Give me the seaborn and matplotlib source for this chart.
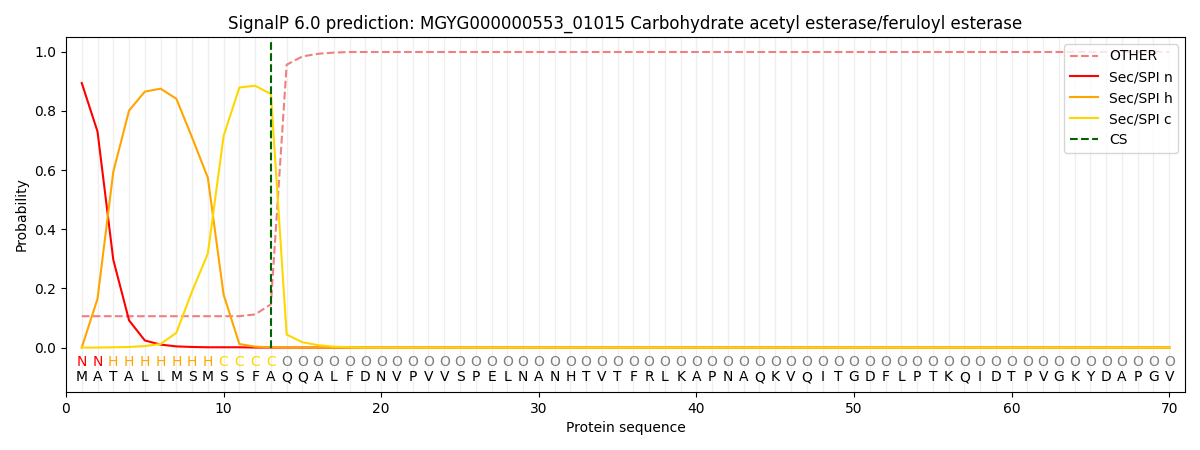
import numpy as np
import pandas as pd
import matplotlib
matplotlib.use("Agg")
import matplotlib.pyplot as plt
import seaborn as sns

sequence = list("MATALLMSMSSFAQQALFDNVPVVSPELNANHTVTFRLKAPNAQKVQITGDFLPTKQIDTPVGKYDAPGV")
labels = list("NNHHHHHHHCCCC") + ["O"] * 57

n_tail = 70 - 17
other = [0.106] * 11 + [0.112, 0.146, 0.956, 0.984, 0.993, 0.997] + [0.999] * n_tail
sec_n = [0.894, 0.730, 0.297, 0.092, 0.024, 0.010, 0.004, 0.002, 0.001, 0.001, 0.001, 0.0, 0.0] + [0.0] * 57
sec_h = [0.0, 0.165, 0.594, 0.801, 0.865, 0.875, 0.841, 0.710, 0.574, 0.179, 0.012, 0.003, 0.001] + [0.0] * 57
sec_c = [0.0, 0.0, 0.001, 0.002, 0.005, 0.012, 0.05, 0.19, 0.318, 0.715, 0.879, 0.885, 0.857,
         0.044, 0.018, 0.008, 0.003, 0.001] + [0.0] * 52
cs_pos = 13

label_colors = {"N": "red", "H": "orange", "C": "gold", "O": "grey"}

pos = np.arange(1, len(sequence) + 1)
df = pd.DataFrame({"pos": pos, "OTHER": other, "Sec/SPI n": sec_n,
                   "Sec/SPI h": sec_h, "Sec/SPI c": sec_c})

fig, ax = plt.subplots(figsize=(12, 4.5), dpi=100)
fig.subplots_adjust(left=0.055, right=0.9875, top=0.918, bottom=0.129)

for p in pos:
    ax.axvline(p, color="lightgrey", alpha=0.35, linewidth=1, zorder=0)

sns.lineplot(data=df, x="pos", y="OTHER", ax=ax, color="lightcoral", linestyle="--", label="OTHER")
sns.lineplot(data=df, x="pos", y="Sec/SPI n", ax=ax, color="red", label="Sec/SPI n")
sns.lineplot(data=df, x="pos", y="Sec/SPI h", ax=ax, color="orange", label="Sec/SPI h")
sns.lineplot(data=df, x="pos", y="Sec/SPI c", ax=ax, color="gold", label="Sec/SPI c")
ax.vlines(cs_pos, 0, 1.04, colors="darkgreen", linestyles="--", label="CS")

for p, aa, lab in zip(pos, sequence, labels):
    ax.text(p, -0.05, lab, color=label_colors[lab], ha="center", va="center", fontsize=10)
    ax.text(p, -0.1, aa, color="black", ha="center", va="center", fontsize=10)

ax.set_xlim(0, 71)
ax.set_ylim(-0.15, 1.05)
ax.set_xlabel("Protein sequence")
ax.set_ylabel("Probability")
ax.set_title("SignalP 6.0 prediction: MGYG000000553_01015 Carbohydrate acetyl esterase/feruloyl esterase")
ax.legend(loc="upper right")
fig.savefig("out.png")
